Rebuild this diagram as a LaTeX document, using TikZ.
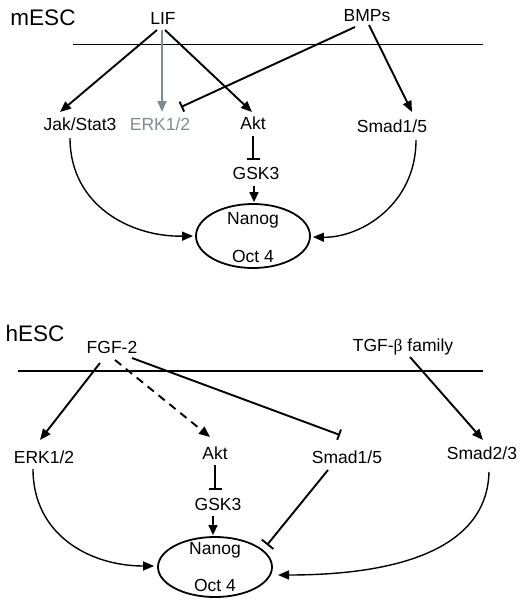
\documentclass[tikz,border=0pt]{standalone}
\usepackage{fontspec}
\setmainfont{Liberation Sans}
\newfontfamily\greekserif{Liberation Serif}
\usetikzlibrary{arrows.meta,calc,shapes.geometric}
\definecolor{erkgrey}{RGB}{128,140,148}
\begin{document}
\begin{tikzpicture}[x=1pt,y=-1pt,
  lbl/.style={inner sep=0pt,anchor=base,font=\fontsize{17.5}{20}\selectfont},
  title/.style={inner sep=0pt,anchor=base,font=\fontsize{22.5}{26}\selectfont},
  tf/.style={draw,ellipse,line width=1.8pt,minimum width=114pt,inner sep=0pt},
  arr/.style={line width=1.9pt,-{Triangle[length=11pt,width=9pt]}},
  curvearr/.style={line width=1.4pt,-{Triangle[length=11pt,width=9pt]}},
  inhib/.style={line width=1.9pt,-{Bar[width=11pt,line width=1.9pt]}},
  membrane/.style={line width=1pt}
]
\useasboundingbox (0,0) rectangle (524,606);

% ---------------- mESC ----------------
\node[title] (mesc) at (43,25) {mESC};
\node[lbl] (lif) at (163,24) {LIF};
\node[lbl] (bmps) at (367,21) {BMPs};
\coordinate (m1a) at (73,44);
\coordinate (m1b) at (483,44);
\draw[membrane] (m1a) -- (m1b);

\node[lbl] (jak) at (80,130) {Jak/Stat3};
\node[lbl,text=erkgrey] (erk1) at (160,130) {ERK1/2};
\node[lbl] (akt1) at (253,129) {Akt};
\node[lbl] (smad1) at (392,132) {Smad1/5};
\node[lbl] (gsk1) at (256,179) {GSK3};

\node[tf,minimum height=64pt] (ell1) at (253,236) {};
\node[lbl] (nanog1) at (253,224) {Nanog};
\node[lbl] (oct1) at (253,262) {Oct 4};

\draw[arr] ($(lif.base)+(-6,6)$) -- ($(jak.base)+(-20,-18)$);
\draw[arr,draw=erkgrey,fill=erkgrey] ($(lif.base)+(-1,6)$) -- ($(erk1.base)+(2,-18)$);
\draw[arr] ($(lif.base)+(2,6)$) -- ($(akt1.base)+(-1,-17)$);
\draw[inhib] ($(bmps.base)+(-12,6)$) -- ($(erk1.base)+(21,-23)$);
\draw[arr] ($(bmps.base)+(2,4)$) -- ($(smad1.base)+(20,-20)$);
\draw[inhib,-{Bar[width=13pt,line width=1.9pt]}] ($(akt1.base)+(0,7)$) -- ($(gsk1.base)+(-3,-19)$);
\draw[line width=1.4pt,-{Triangle[length=10pt,width=9pt]}] ($(gsk1.base)+(-2,7)$) -- ($(ell1.north)+(1,-1)$);
\draw[curvearr] ($(jak.base)+(-10,8)$) .. controls (70,205) and (130,237) .. ($(ell1.west)+(-2,0)$);
\draw[curvearr] ($(smad1.base)+(24,8)$) .. controls (416,205) and (360,238) .. ($(ell1.east)+(2,1)$);

% ---------------- hESC ----------------
\node[title] (hesc) at (35,341) {hESC};
\node[lbl] (fgf) at (112,353) {FGF-2};
\node[lbl] (tgf) at (403,351) {TGF-{\greekserif β} family};
\coordinate (m2a) at (18,371);
\coordinate (m2b) at (483,371);
\draw[line width=2.2pt] (m2a) -- (m2b);

\node[lbl] (erk2) at (44,463) {ERK1/2};
\node[lbl] (akt2) at (215,459) {Akt};
\node[lbl] (smad1b) at (347,463) {Smad1/5};
\node[lbl] (smad23) at (482,459) {Smad2/3};
\node[lbl] (gsk2) at (218,510) {GSK3};

\node[tf,minimum height=60pt] (ell2) at (215,567) {};
\node[lbl] (nanog2) at (215,554) {Nanog};
\node[lbl] (oct2) at (215,591) {Oct 4};

\draw[arr] ($(fgf.base)+(-12,10)$) -- ($(erk2.base)+(-4,-23)$);
\draw[arr,dash pattern=on 8pt off 6pt] ($(fgf.base)+(3,7)$) -- ($(akt2.base)+(-5,-22)$);
\draw[inhib] ($(fgf.base)+(20,5)$) -- ($(smad1b.base)+(-7,-28)$);
\draw[arr] ($(tgf.base)+(7,6)$) -- ($(smad23.base)+(1,-19)$);
\draw[inhib,-{Bar[width=13pt,line width=1.9pt]}] ($(akt2.base)+(0,6)$) -- ($(gsk2.base)+(-3,-20)$);
\draw[line width=1.4pt,-{Triangle[length=10pt,width=9pt]}] ($(gsk2.base)+(-5,6)$) -- ($(ell2.north)+(-2,-1)$);
\draw[curvearr] ($(erk2.base)+(-11,6)$) .. controls (33,535) and (90,566) .. ($(ell2.west)+(-3,-1)$);
\draw[inhib,-{Bar[width=15pt,line width=1.9pt]}] ($(smad1b.base)+(-19,7)$) -- ($(ell2.center)+(52,-22)$);
\draw[curvearr] ($(smad23.base)+(7,13)$) .. controls (487,548) and (400,575) .. ($(ell2.center)+(63,8)$);
\end{tikzpicture}
\end{document}
